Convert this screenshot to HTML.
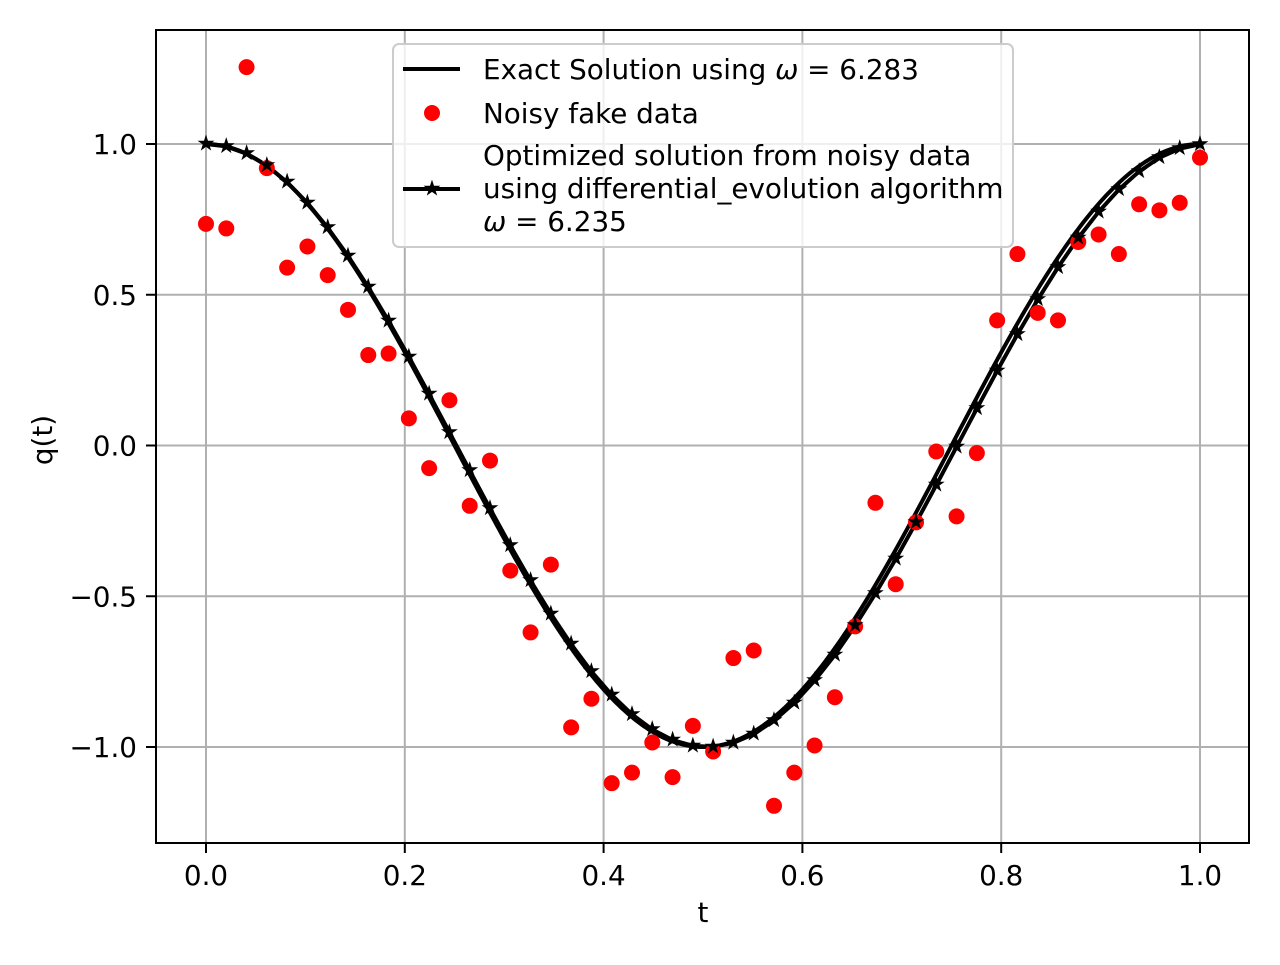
<!DOCTYPE html>
<html><head><meta charset="utf-8"><style>
body{margin:0;background:#fff}
svg text{font-family:"DejaVu Sans","Liberation Sans",sans-serif;fill:#000}
</style></head><body>
<svg id="chart" width="1280" height="960" xmlns="http://www.w3.org/2000/svg">
<rect width="1280" height="960" fill="#fff"/>
<g id="grid"></g>
<g id="series"></g>
<rect x="156" y="30" width="1093" height="813" fill="none" stroke="#000" stroke-width="2"/>
<g id="ticks"></g>
<text x="703" y="922" font-size="27.8" text-anchor="middle">t</text>
<text transform="translate(52,440) rotate(-90)" font-size="27.8" text-anchor="middle">q(t)</text>
<g>
<rect x="393" y="44" width="620" height="203" rx="6" fill="#fff" fill-opacity="0.8" stroke="#ccc" stroke-width="2"/>
<g>
<line x1="403" y1="69" x2="460" y2="69" stroke="#000" stroke-width="4"/>
<text x="483" y="79" font-size="27.8">Exact Solution using <tspan font-style="italic">ω</tspan> = 6.283</text></g>
<g>
<circle cx="432" cy="113" r="8" fill="#f00"/>
<text x="483" y="123" font-size="27.8">Noisy fake data</text></g>
<g>
<line x1="403" y1="189" x2="460" y2="189" stroke="#000" stroke-width="4"/>
<text x="432" y="189" font-size="22" text-anchor="middle" dominant-baseline="central">★</text>
<text x="483" y="165" font-size="27.8">Optimized solution from noisy data</text>
<text x="483" y="198" font-size="27.8">using differential_evolution algorithm</text>
<text x="483" y="231" font-size="27.8"><tspan font-style="italic">ω</tspan> = 6.235</text></g>
</g>
</svg>
<script>
const noisyValues=[0.735,0.72,1.255,0.92,0.59,0.66,0.565,0.45,0.30,0.305,0.09,-0.075,0.15,-0.20,-0.05,-0.415,-0.62,-0.395,-0.935,-0.84,-1.12,-1.085,-0.985,-1.10,-0.93,-1.015,-0.705,-0.68,-1.195,-1.085,-0.995,-0.835,-0.60,-0.19,-0.46,-0.255,-0.02,-0.235,-0.025,0.415,0.635,0.44,0.415,0.675,0.70,0.635,0.80,0.78,0.805,0.955];
const exactOmega=6.283;
const optOmega=6.235;
const xTicks=[0,0.2,0.4,0.6,0.8,1.0];
const xTickLabels=["0.0","0.2","0.4","0.6","0.8","1.0"];
const yTicks=[-1,-0.5,0,0.5,1];
const yTickLabels=["\u22121.0","\u22120.5","0.0","0.5","1.0"];
const NS="http://www.w3.org/2000/svg";
const X=t=>206+t*994, Y=v=>445.5-v*301.5;
function mk(p,tag,at){const e=document.createElementNS(NS,tag);for(const k in at)e.setAttribute(k,at[k]);p.appendChild(e);return e;}
const grid=document.getElementById('grid'),ticks=document.getElementById('ticks'),ser=document.getElementById('series');
xTicks.forEach((t,i)=>{
 const g=mk(grid,'line',{x1:X(t),x2:X(t),y1:30,y2:843,stroke:'#b0b0b0','stroke-width':2});
 
 
 const tk=mk(ticks,'line',{x1:X(t),x2:X(t),y1:843,y2:853,stroke:'#000','stroke-width':2});
 
 
 const tx=mk(ticks,'text',{x:X(t),y:885,'font-size':27.8,'text-anchor':'middle'});tx.textContent=xTickLabels[i];
 
 
});
yTicks.forEach((v,i)=>{
 const g=mk(grid,'line',{x1:156,x2:1249,y1:Y(v),y2:Y(v),stroke:'#b0b0b0','stroke-width':2});
 
 
 const tk=mk(ticks,'line',{x1:146,x2:156,y1:Y(v),y2:Y(v),stroke:'#000','stroke-width':2});
 
 
 const tx=mk(ticks,'text',{x:137,y:Y(v)+10,'font-size':27.8,'text-anchor':'end'});tx.textContent=yTickLabels[i];
 
 
});
const n=noisyValues.length;
let pe=[],po=[];
for(let i=0;i<=400;i++){const t=i/400;pe.push(X(t)+','+Y(Math.cos(exactOmega*t)));}
for(let i=0;i<n;i++){const t=i/(n-1);po.push(X(t)+','+Y(Math.cos(optOmega*t)));}
const le=mk(ser,'polyline',{points:pe.join(' '),fill:'none',stroke:'#000','stroke-width':4});


const lo=mk(ser,'polyline',{points:po.join(' '),fill:'none',stroke:'#000','stroke-width':4});


noisyValues.forEach((v,i)=>{
 const c=mk(ser,'circle',{cx:X(i/(n-1)),cy:Y(v),r:8,fill:'#f00'});
 
 
});
for(let i=0;i<n;i++){const t=i/(n-1);
 const s=mk(ser,'text',{x:X(t),y:Y(Math.cos(optOmega*t)),'font-size':22,'text-anchor':'middle','dominant-baseline':'central'});s.textContent='★';
 
 
}
</script>
</body></html>
